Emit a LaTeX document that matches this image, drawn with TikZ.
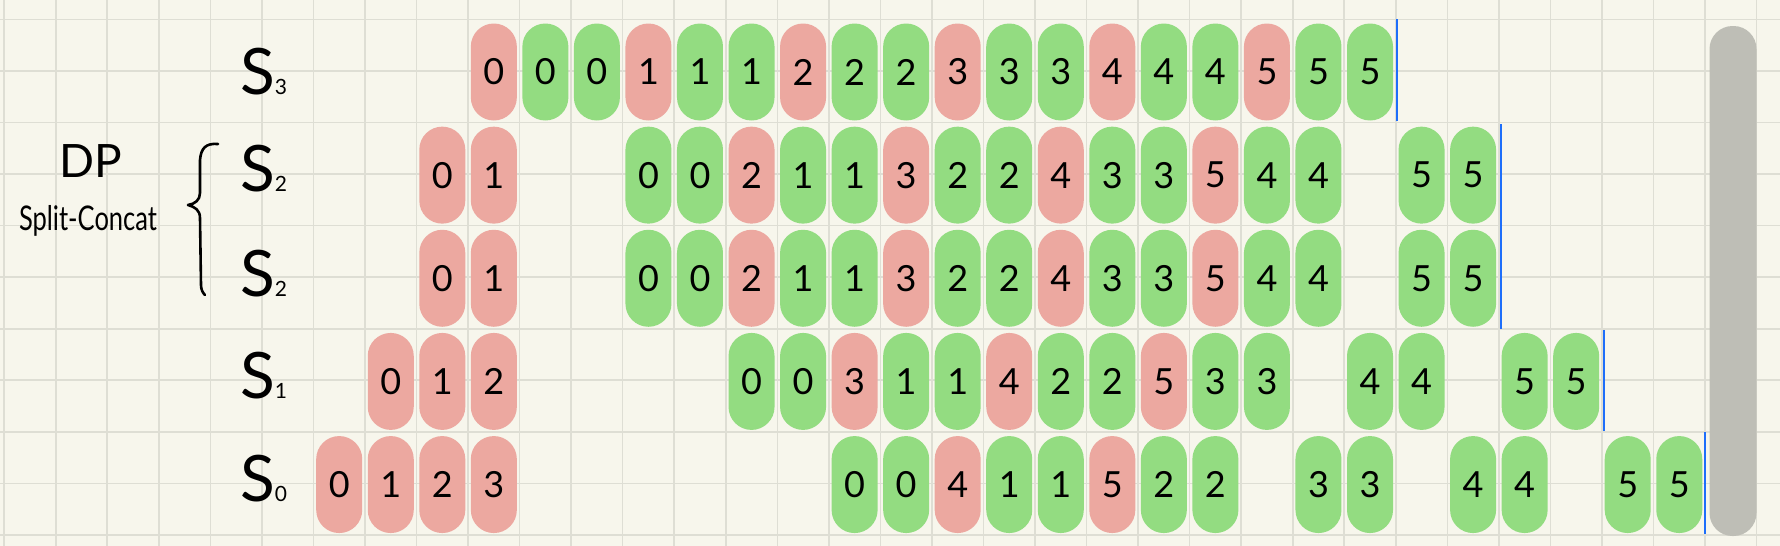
\documentclass[tikz,border=0pt]{standalone}
\usepackage{fontspec}
\usepackage{graphicx}
\setmainfont{Lato}
\definecolor{bg}{RGB}{247,246,236}
\definecolor{gridc}{RGB}{222,222,212}
\definecolor{pk}{RGB}{236,168,160}
\definecolor{gr}{RGB}{147,220,129}
\definecolor{bl}{RGB}{30,110,250}
\definecolor{gy}{RGB}{190,190,182}
\begin{document}
\begin{tikzpicture}[x=1pt,y=-1pt,
  pill/.style={draw=none, rectangle, rounded corners=23pt, minimum width=46pt,
    minimum height=97pt, inner sep=0pt, font=\fontsize{36}{36}\selectfont},
  lbl/.style={anchor=base west, inner sep=0pt, font=\fontsize{64}{64}\selectfont},
  endline/.style={line width=2pt, draw=bl},
  gridline/.style={draw=gridc, line width=1.6pt}]
\fill[bg] (0,0) rectangle (1780,546);
\useasboundingbox (0,0) rectangle (1780,546);
% grid
\foreach \k in {0,...,34} \draw[gridline] ({4.2+51.54*\k},0) -- ({4.2+51.54*\k},546);
\foreach \j in {0,...,10} \draw[gridline] (0,{19.3+51.57*\j}) -- (1780,{19.3+51.57*\j});
% labels
\node[lbl] (s3) at (240,94) {S{\fontsize{21}{21}\selectfont 3}};
\node[lbl] (s2a) at (240,191) {S{\fontsize{21}{21}\selectfont 2}};
\node[lbl] (s2b) at (240,296) {S{\fontsize{21}{21}\selectfont 2}};
\node[lbl] (s1) at (240,398) {S{\fontsize{21}{21}\selectfont 1}};
\node[lbl] (s0) at (240,501) {S{\fontsize{21}{21}\selectfont 0}};
\node[anchor=base, inner sep=0pt, font=\fontsize{46}{46}\selectfont] (dp) at (91,177) {DP};
\node[anchor=base, inner sep=0pt, font=\fontsize{34}{34}\selectfont] (sc) at (88,230) {\scalebox{0.75}[1]{Split-Concat}};
% brace
\draw[line width=2.6pt, line cap=round, line join=round]
  (218,144) .. controls (206,143) and (201,148) .. (200,160) -- (200,193)
  .. controls (200,200) and (195,204) .. (188,205)
  .. controls (195,207) and (200,210) .. (200,218) -- (201,285)
  .. controls (201,290) and (203,293) .. (205,295);
% pills
\foreach \r/\lst in {
  0/{9/pk/0,10/gr/0,11/gr/0,12/pk/1,13/gr/1,14/gr/1,15/pk/2,16/gr/2,17/gr/2,18/pk/3,19/gr/3,20/gr/3,21/pk/4,22/gr/4,23/gr/4,24/pk/5,25/gr/5,26/gr/5},
  1/{8/pk/0,9/pk/1,12/gr/0,13/gr/0,14/pk/2,15/gr/1,16/gr/1,17/pk/3,18/gr/2,19/gr/2,20/pk/4,21/gr/3,22/gr/3,23/pk/5,24/gr/4,25/gr/4,27/gr/5,28/gr/5},
  2/{8/pk/0,9/pk/1,12/gr/0,13/gr/0,14/pk/2,15/gr/1,16/gr/1,17/pk/3,18/gr/2,19/gr/2,20/pk/4,21/gr/3,22/gr/3,23/pk/5,24/gr/4,25/gr/4,27/gr/5,28/gr/5},
  3/{7/pk/0,8/pk/1,9/pk/2,14/gr/0,15/gr/0,16/pk/3,17/gr/1,18/gr/1,19/pk/4,20/gr/2,21/gr/2,22/pk/5,23/gr/3,24/gr/3,26/gr/4,27/gr/4,29/gr/5,30/gr/5},
  4/{6/pk/0,7/pk/1,8/pk/2,9/pk/3,16/gr/0,17/gr/0,18/pk/4,19/gr/1,20/gr/1,21/pk/5,22/gr/2,23/gr/2,25/gr/3,26/gr/3,28/gr/4,29/gr/4,31/gr/5,32/gr/5}}{
  \foreach \c/\s/\d in \lst {
    \node[pill, fill=\s] (n\r-\c) at ({29.97+51.54*\c},{72+103.14*\r}) {\d};
  }
}
% end markers
\coordinate (e0a) at (1397,19); \coordinate (e0b) at (1397,121);
\coordinate (e1a) at (1500.5,124); \coordinate (e1b) at (1500.5,329);
\coordinate (e2a) at (1603.5,330); \coordinate (e2b) at (1603.5,431);
\coordinate (e3a) at (1704.5,432); \coordinate (e3b) at (1704.5,534);
\draw[endline] (e0a) -- (e0b);
\draw[endline] (e1a) -- (e1b);
\draw[endline] (e2a) -- (e2b);
\draw[endline] (e3a) -- (e3b);
% gray bar
\node[draw=none, fill=gy, rectangle, rounded corners=23pt, minimum width=47pt,
  minimum height=510pt, inner sep=0pt] (bar) at (1733,281) {};
\end{tikzpicture}
\end{document}
